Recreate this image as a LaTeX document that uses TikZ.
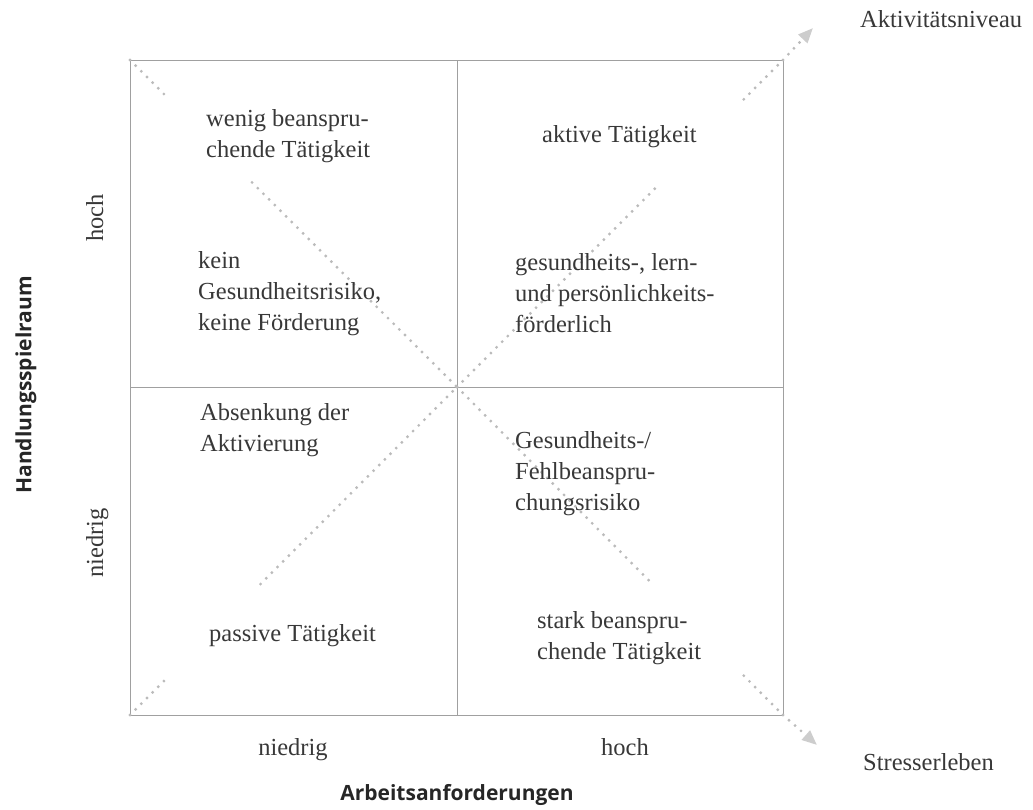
\documentclass[tikz,border=0pt]{standalone}
\usepackage{fontspec}
\setmainfont{Liberation Serif}
\newfontfamily\axisfont{Open Sans}
\usetikzlibrary{arrows.meta,calc}
\definecolor{txt}{HTML}{383838}
\definecolor{dotc}{HTML}{BBBBBB}
\definecolor{boxc}{HTML}{A0A0A0}
\definecolor{headc}{HTML}{CDCDCD}
\begin{document}
\begin{tikzpicture}[x=1pt,y=-1pt,
  lbl/.style={inner sep=0pt, text=txt, font=\fontsize{24.5}{31}\selectfont, align=left, anchor=west},
  ticklbl/.style={inner sep=0pt, text=txt, font=\fontsize{24.5}{31}\selectfont},
  axtitle/.style={inner sep=0pt, text=black!85, font=\axisfont\bfseries\fontsize{21}{25}\selectfont},
  frame/.style={draw=boxc, line width=1pt},
  dotline/.style={draw=dotc, line width=3.2pt, line cap=round, dash pattern=on 0pt off 8pt},
  arrowline/.style={dotline, -{Triangle[length=15pt,width=12pt,fill=headc,color=headc]}}
]
\useasboundingbox (0,0) rectangle (1033,809);
% frame coordinates
\coordinate (TL) at (130,60);
\coordinate (TR) at (783,60);
\coordinate (BL) at (130,715);
\coordinate (BR) at (783,715);
\coordinate (C)  at (457,387);
\coordinate (TM) at (457,60);
\coordinate (BM) at (457,715);
\coordinate (LM) at (130,387);
\coordinate (RM) at (783,387);
\coordinate (UpTip) at (813,28);
\coordinate (DnTip) at (817,745);
% diagonal break points
\coordinate (u1) at ($(BL)!0.058!(TR)$);
\coordinate (u2) at ($(BL)!0.20!(TR)$);
\coordinate (u3) at ($(BL)!0.81!(TR)$);
\coordinate (u4) at ($(BL)!0.94!(TR)$);
\coordinate (d1) at ($(TL)!0.057!(BR)$);
\coordinate (d2) at ($(TL)!0.187!(BR)$);
\coordinate (d3) at ($(TL)!0.80!(BR)$);
\coordinate (d4) at ($(TL)!0.94!(BR)$);
% frame
\draw[frame] (TL) rectangle (BR);
\draw[frame] (TM) -- (BM);
\draw[frame] (LM) -- (RM);
% dotted diagonals
\draw[dotline] (BL) -- (u1);
\draw[dotline] (u2) -- (C);
\draw[dotline] (C) -- (u3);
\draw[dotline] (u4) -- (TR);
\draw[arrowline] (TR) -- (UpTip);
\draw[dotline] (TL) -- (d1);
\draw[dotline] (d2) -- (C);
\draw[dotline] (C) -- (d3);
\draw[dotline] (d4) -- (BR);
\draw[arrowline] (BR) -- (DnTip);
% quadrant texts
\node[lbl] (q1a) at (206,136) {wenig beanspru-\\chende Tätigkeit};
\node[lbl] (q2a) at (542,137) {aktive Tätigkeit};
\node[lbl] (q1b) at (198,294) {kein\\Gesundheitsrisiko,\\keine Förderung};
\node[lbl] (q2b) at (515,293) {gesundheits-, lern-\\und persönlichkeits-\\förderlich};
\node[lbl] (q3a) at (200,430) {Absenkung der\\Aktivierung};
\node[lbl] (q4a) at (515,474) {Gesundheits-/\\Fehlbeanspru-\\chungsrisiko};
\node[lbl] (q3b) at (209,636) {passive Tätigkeit};
\node[lbl] (q4b) at (537,638) {stark beanspru-\\chende Tätigkeit};
% axis labels
\node[lbl] (up) at (860,19) {Aktivitätsniveau};
\node[lbl] (dn) at (863,762) {Stresserleben};
\node[ticklbl, anchor=base] (xlo) at (293,755) {niedrig};
\node[ticklbl, anchor=base] (xhi) at (625,755) {hoch};
\node[ticklbl, anchor=base, rotate=90] (yhi) at (103,218) {hoch};
\node[ticklbl, anchor=base, rotate=90] (ylo) at (103,543) {niedrig};
\node[axtitle] (xt) at (457,795) {Arbeitsanforderungen};
\node[axtitle, rotate=90] (yt) at (26,385) {Handlungsspielraum};
\end{tikzpicture}
\end{document}
